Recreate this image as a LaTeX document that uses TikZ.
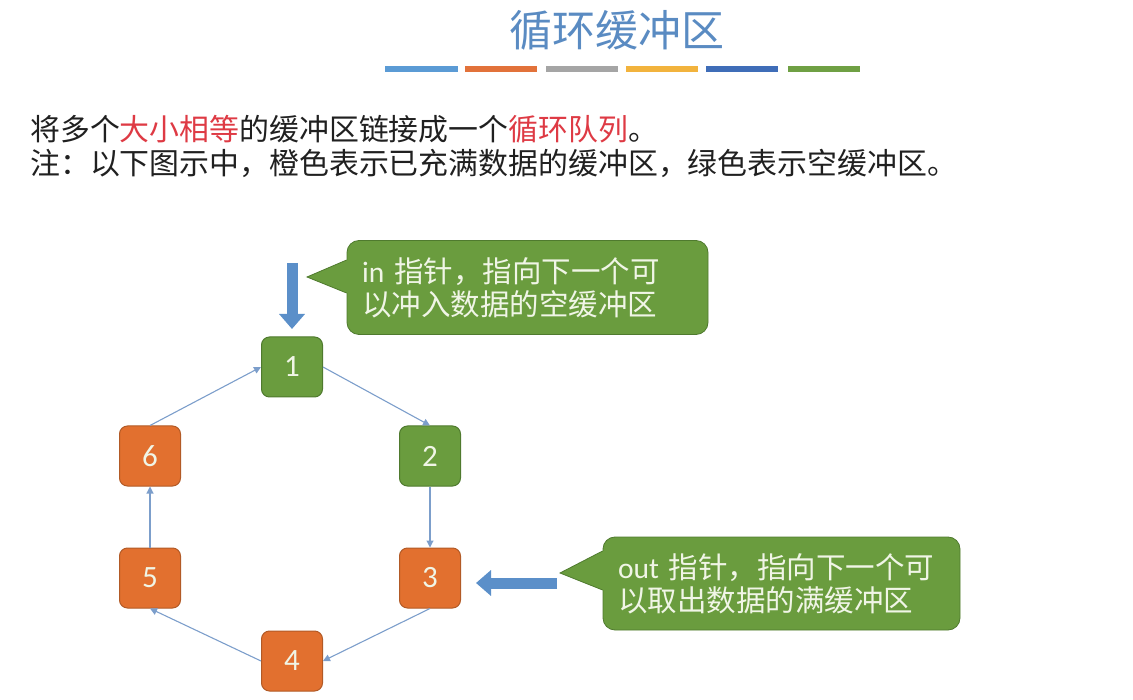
\documentclass[tikz,border=0pt]{standalone}
\usepackage{fontspec}
\newfontfamily\cjk{Noto Sans CJK SC}
\newfontfamily\carl{Carlito}
\usetikzlibrary{arrows.meta}
\definecolor{titleblue}{HTML}{5A8BC2}
\definecolor{barA}{HTML}{5B9BD5}
\definecolor{barB}{HTML}{E2723A}
\definecolor{barC}{HTML}{A5A5A5}
\definecolor{barD}{HTML}{F2B33D}
\definecolor{barE}{HTML}{3F6DB8}
\definecolor{barF}{HTML}{6FA044}
\definecolor{bufgreen}{HTML}{6A9C3E}
\definecolor{bufgreenline}{HTML}{4F7A2E}
\definecolor{buforange}{HTML}{E2702F}
\definecolor{buforangeline}{HTML}{B25A26}
\definecolor{edgeblue}{HTML}{7C9ECB}
\definecolor{arrowblue}{HTML}{5B8FC9}
\definecolor{hired}{HTML}{DE3A44}
\definecolor{lighttext}{HTML}{F0F5E6}
\definecolor{bodytext}{HTML}{202020}
\tikzset{
  buf/.style={rectangle, rounded corners=8pt, minimum width=61pt, minimum height=60pt,
    inner sep=0pt, line width=1pt, text=lighttext, font=\carl\fontsize{31}{31}\selectfont},
  fullbuf/.style={buf, fill=buforange, draw=buforangeline},
  emptybuf/.style={buf, fill=bufgreen, draw=bufgreenline},
  link/.style={draw=edgeblue, line width=1.1pt, -{Triangle[length=7pt,width=7pt]}},
  bigarrow/.style={draw=arrowblue, line width=11pt, -{Triangle[length=15pt,width=25pt]}},
  calloutbox/.style={rectangle, rounded corners=12pt, fill=bufgreen, draw=bufgreenline, line width=0.8pt,
    align=left, text=lighttext, inner xsep=15pt, inner ysep=0pt, font=\cjk\fontsize{29.5}{33}\selectfont},
  bar/.style={line width=6pt},
  bodyline/.style={anchor=west, inner sep=0pt, text=bodytext, font=\cjk\fontsize{29.9}{30}\selectfont}
}
\begin{document}
\begin{tikzpicture}[x=1pt,y=-1pt]
\useasboundingbox (0,0) rectangle (1133,700);
% title
\node[text=titleblue, font=\cjk\fontsize{43}{43}\selectfont, inner sep=0pt] (title) at (617,30) {循环缓冲区};
\draw[bar, barA] (385,69) -- (458,69);
\draw[bar, barB] (465,69) -- (537,69);
\draw[bar, barC] (546,69) -- (618,69);
\draw[bar, barD] (626,69) -- (698,69);
\draw[bar, barE] (706,69) -- (778,69);
\draw[bar, barF] (788,69) -- (860,69);
% body text
\node[bodyline] (l1) at (30,129) {将多个\textcolor{hired}{大小相等}的缓冲区链接成一个\textcolor{hired}{循环队列}。};
\node[bodyline] (l2) at (30,163) {注：以下图示中，橙色表示已充满数据的缓冲区，绿色表示空缓冲区。};
% buffers
\node[emptybuf] (b1) at (292,367) {1};
\node[emptybuf] (b2) at (430,456) {2};
\node[fullbuf] (b3) at (430,578) {3};
\node[fullbuf] (b4) at (292,661) {4};
\node[fullbuf] (b5) at (150,578) {5};
\node[fullbuf] (b6) at (150,456) {6};
\draw[link] (b1.east) -- (b2.north);
\draw[link] (b2.south) -- (b3.north);
\draw[link] (b3.south) -- (b4.east);
\draw[link] (b4.west) -- (b5.south);
\draw[link] (b5.north) -- (b6.south);
\draw[link] (b6.north) -- (b1.west);
% in pointer
\coordinate (inS) at (292,263);
\coordinate (inE) at (292,329);
\draw[bigarrow] (inS) -- (inE);
\node[calloutbox, minimum width=361pt, minimum height=94pt, text width=331pt] (inC) at (527.5,287.5)
  {{\carl in} 指针，指向下一个可\\以冲入数据的空缓冲区};
\coordinate (inTip) at (307,277);
\fill[bufgreen] (inTip) -- (inC.west |- 0,260) -- ([xshift=3pt]inC.west |- 0,260) -- ([xshift=3pt]inC.west |- 0,293) -- (inC.west |- 0,293) -- cycle;
\draw[bufgreenline, line width=0.8pt] (inC.west |- 0,260) -- (inTip) -- (inC.west |- 0,293);
% out pointer
\coordinate (outS) at (557,583);
\coordinate (outE) at (476,583);
\draw[bigarrow] (outS) -- (outE);
\node[calloutbox, minimum width=357pt, minimum height=93pt, text width=327pt] (outC) at (781.5,583.5)
  {{\carl out} 指针，指向下一个可\\以取出数据的满缓冲区};
\coordinate (outTip) at (560,573);
\fill[bufgreen] (outTip) -- (outC.west |- 0,551) -- ([xshift=3pt]outC.west |- 0,551) -- ([xshift=3pt]outC.west |- 0,590) -- (outC.west |- 0,590) -- cycle;
\draw[bufgreenline, line width=0.8pt] (outC.west |- 0,551) -- (outTip) -- (outC.west |- 0,590);
\end{tikzpicture}
\end{document}
